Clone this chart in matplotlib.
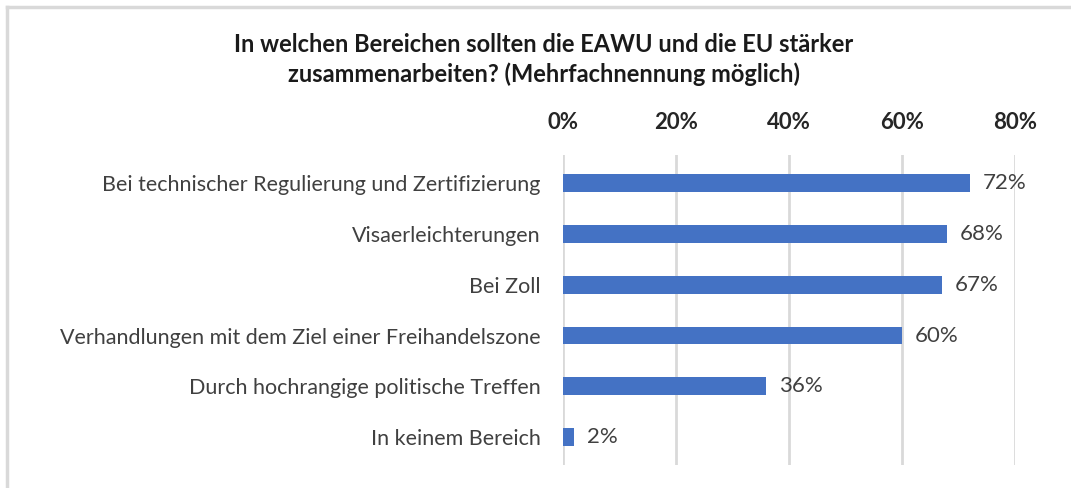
import matplotlib.pyplot as plt
from matplotlib.lines import Line2D

plt.rcParams['font.family'] = ['Lato', 'DejaVu Sans']

categories = ["Bei technischer Regulierung und Zertifizierung",
              "Visaerleichterungen",
              "Bei Zoll",
              "Verhandlungen mit dem Ziel einer Freihandelszone",
              "Durch hochrangige politische Treffen",
              "In keinem Bereich"]
values = [72, 68, 67, 60, 36, 2]
ticks = [0, 20, 40, 60, 80]
tick_labels = ["0%", "20%", "40%", "60%", "80%"]

fig = plt.figure(figsize=(10.71, 4.88), dpi=100)
ax = fig.add_axes([0.5257, 0.047, 0.4220, 0.635])

y = list(range(len(categories)))
ax.barh(y, values, height=0.35, color='#4472C4')
for yi, v in zip(y, values):
    ax.text(v + 2.3, yi, "{}%".format(v), va='center', ha='left',
            fontsize=16, color='#404040')

ax.set_xlim(0, 80)
ax.set_ylim(len(categories) - 0.45, -0.55)
ax.set_yticks(y)
ax.set_yticklabels(categories, fontsize=15.5, color='#404040')
ax.set_xticks(ticks)
ax.set_xticklabels(tick_labels, fontsize=16, fontweight='bold', color='#262626')
ax.xaxis.tick_top()
ax.tick_params(axis='both', length=0)
ax.tick_params(axis='x', pad=16)
ax.tick_params(axis='y', pad=16)
ax.grid(axis='x', color='#d9d9d9', linewidth=2)
ax.set_axisbelow(True)
for s in ax.spines.values():
    s.set_visible(False)

fig.text(0.508, 0.908, "In welchen Bereichen sollten die EAWU und die EU stärker",
         ha='center', va='center', fontsize=17, fontweight='bold', color='#1a1a1a')
fig.text(0.508, 0.847, "zusammenarbeiten? (Mehrfachnennung möglich)",
         ha='center', va='center', fontsize=17, fontweight='bold', color='#1a1a1a')

# outer frame (only left and top visible)
fig.add_artist(Line2D([0.0065, 0.0065], [0, 0.986], color='#d9d9d9', linewidth=2.5,
                      transform=fig.transFigure))
fig.add_artist(Line2D([0.0065, 1], [0.986, 0.986], color='#d9d9d9', linewidth=2.5,
                      transform=fig.transFigure))

plt.savefig("out.png", dpi=100)
